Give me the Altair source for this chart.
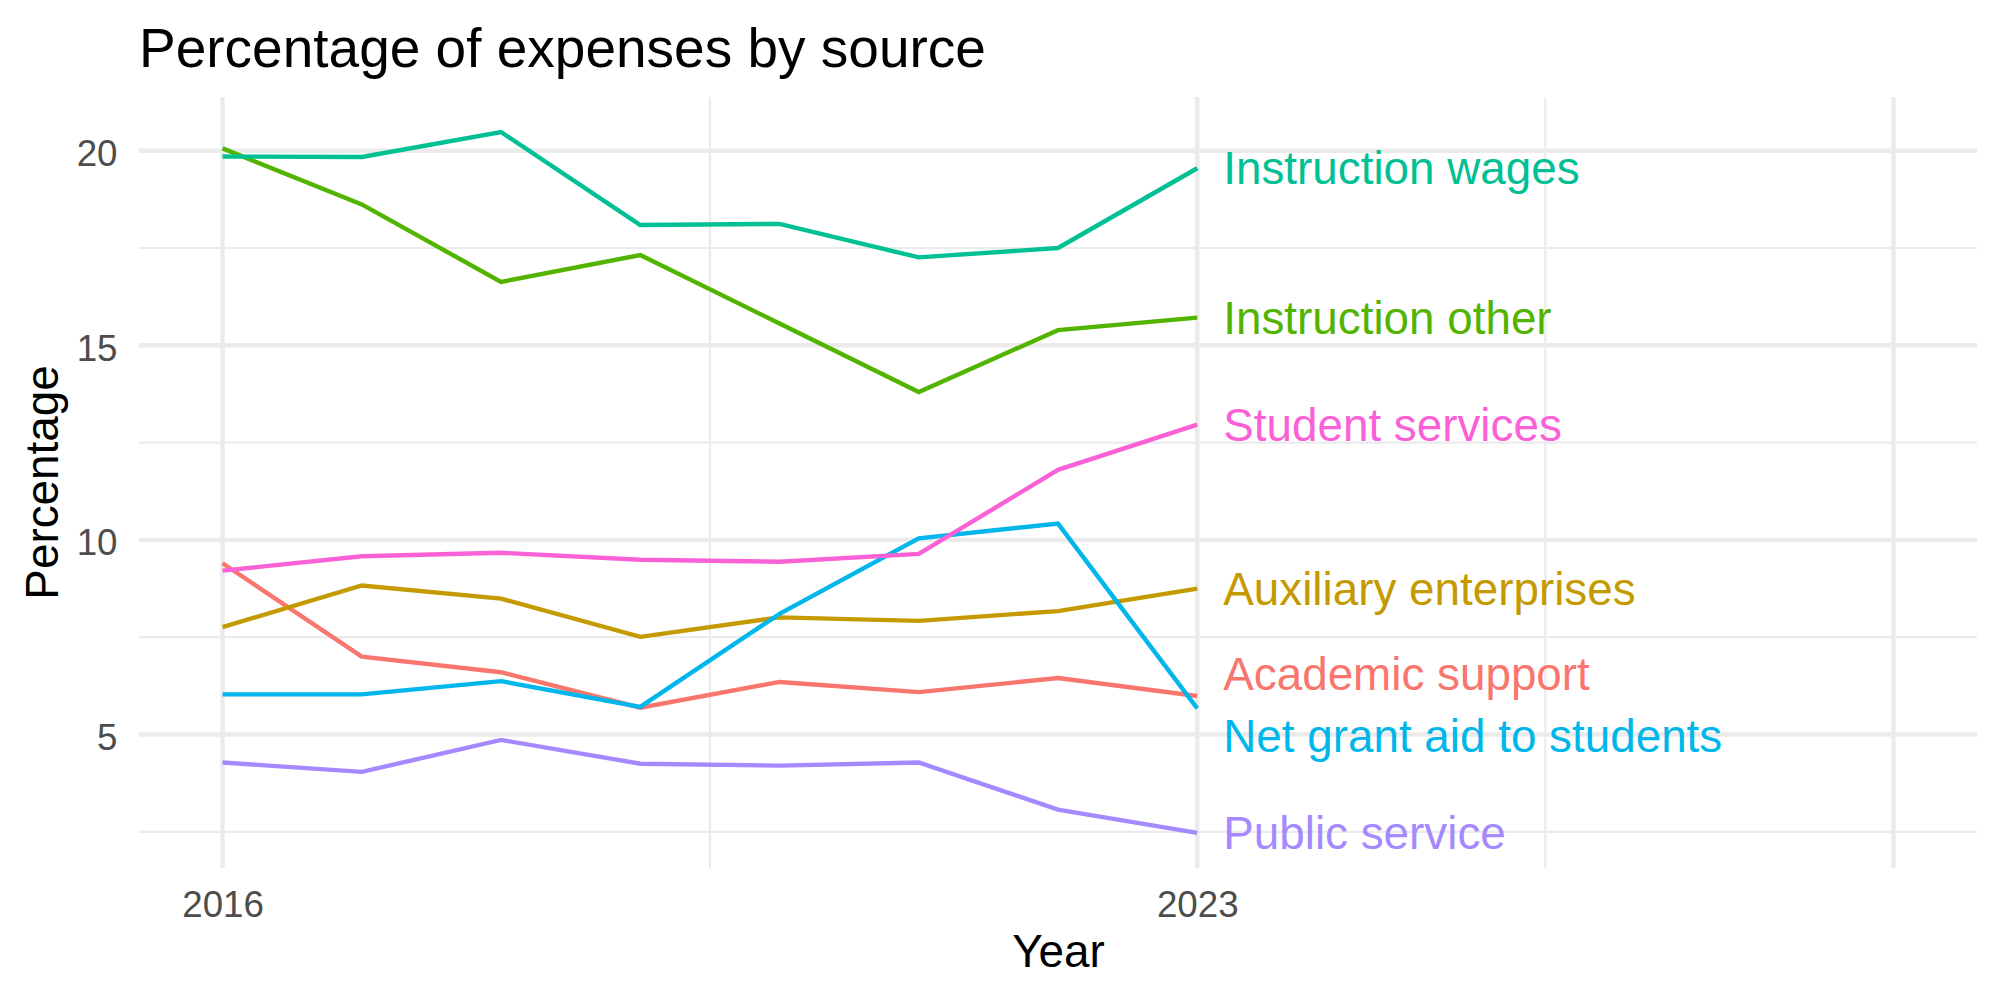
import altair as alt
import pandas as pd

# ---- data ----
years = [2016, 2017, 2018, 2019, 2020, 2021, 2022, 2023]
sources = [
    "Academic support",
    "Auxiliary enterprises",
    "Instruction other",
    "Instruction wages",
    "Net grant aid to students",
    "Public service",
    "Student services",
]
academic_support = [9.40, 7.00, 6.60, 5.69, 6.35, 6.09, 6.45, 5.99]
auxiliary_enterprises = [7.76, 8.83, 8.49, 7.51, 8.01, 7.92, 8.17, 8.75]
instruction_other = [20.06, 18.62, 16.63, 17.32, 15.56, 13.80, 15.39, 15.71]
instruction_wages = [19.85, 19.84, 20.48, 18.09, 18.12, 17.26, 17.50, 19.55]
net_grant_aid = [6.03, 6.03, 6.37, 5.71, 8.10, 10.04, 10.42, 5.67]
public_service = [4.28, 4.04, 4.86, 4.25, 4.20, 4.28, 3.07, 2.47]
student_services = [9.21, 9.58, 9.67, 9.49, 9.44, 9.64, 11.80, 12.96]

# label positions (repelled vertically in the original)
label_year = [2023] * 7
label_value = [6.55, 8.75, 15.71, 19.55, 4.95, 2.47, 12.96]

colors = ["#F8766D", "#C49A00", "#53B400", "#00C094", "#00B6EB", "#A58AFF", "#FB61D7"]

x_limits = [2016, 2028]
x_labels = [2016, 2023]
x_major_grid = [2016, 2023, 2028]
x_minor_grid = [2019.5, 2025.5]
y_major_grid = [5, 10, 15, 20]
y_minor_grid = [2.5, 7.5, 12.5, 17.5]

series = [academic_support, auxiliary_enterprises, instruction_other,
          instruction_wages, net_grant_aid, public_service, student_services]
rows = []
for s, vals in zip(sources, series):
    for yr, v in zip(years, vals):
        rows.append({"Year": yr, "Percentage": v, "Source": s})
df = pd.DataFrame(rows)
labels_df = pd.DataFrame({"Year": label_year, "Percentage": label_value, "Source": sources})

allv = [v for s in series for v in s]
ymin, ymax = min(allv), max(allv)
yr_ = ymax - ymin
y_domain = [ymin - 0.05 * yr_, ymax + 0.05 * yr_]
xr_ = x_limits[1] - x_limits[0]
x_domain = [x_limits[0] - 0.05 * xr_, x_limits[1] + 0.05 * xr_]

FONT = "Liberation Sans"
GRID = "#EBEBEB"
xs = alt.Scale(domain=x_domain, nice=False, zero=False)
ys = alt.Scale(domain=y_domain, nice=False, zero=False)
color_scale = alt.Scale(domain=sources, range=colors)

x_axis = alt.Axis(values=x_labels, format="d", title="Year", grid=False, ticks=False,
                  tickSize=0, domain=False, labelFontSize=36.7, labelColor="#4D4D4D",
                  labelFont=FONT, labelPadding=19, labelBaseline="top",
                  titleFont=FONT, titleFontSize=45.8, titleFontWeight="normal",
                  titleColor="black", titleBaseline="alphabetic", titleY=98)
y_axis = alt.Axis(values=y_major_grid, title="Percentage", grid=False, ticks=False,
                  tickSize=0, domain=False, labelFontSize=36.7, labelColor="#4D4D4D",
                  labelFont=FONT, labelPadding=22, labelBaseline="alphabetic",
                  labelOffset=15,
                  titleFont=FONT, titleFontSize=45.8, titleFontWeight="normal",
                  titleColor="black", titleBaseline="alphabetic", titleX=-82,
                  titleY=385, titleAngle=270)

ymin_grid = alt.Chart(pd.DataFrame({"Percentage": y_minor_grid})).mark_rule(
    color=GRID, strokeWidth=2.2).encode(
    y=alt.Y("Percentage:Q", scale=ys, axis=y_axis))
ymaj_grid = alt.Chart(pd.DataFrame({"Percentage": y_major_grid})).mark_rule(
    color=GRID, strokeWidth=4.4).encode(
    y=alt.Y("Percentage:Q", scale=ys, axis=y_axis))
xmin_grid = alt.Chart(pd.DataFrame({"Year": x_minor_grid})).mark_rule(
    color=GRID, strokeWidth=2.2).encode(
    x=alt.X("Year:Q", scale=xs, axis=x_axis))
xmaj_grid = alt.Chart(pd.DataFrame({"Year": x_major_grid})).mark_rule(
    color=GRID, strokeWidth=4.4).encode(
    x=alt.X("Year:Q", scale=xs, axis=x_axis))

lines = alt.Chart(df).mark_line(strokeWidth=4.4).encode(
    x=alt.X("Year:Q", scale=xs, axis=x_axis),
    y=alt.Y("Percentage:Q", scale=ys, axis=y_axis),
    color=alt.Color("Source:N", scale=color_scale, legend=None),
    detail="Source:N",
)

texts = alt.Chart(labels_df).mark_text(align="left", baseline="alphabetic", dx=26, dy=16,
                                       fontSize=45.8, font=FONT).encode(
    x=alt.X("Year:Q", scale=xs, axis=x_axis),
    y=alt.Y("Percentage:Q", scale=ys, axis=y_axis),
    text="Source:N",
    color=alt.Color("Source:N", scale=color_scale, legend=None),
)

chart = alt.layer(ymin_grid, ymaj_grid, xmin_grid, xmaj_grid, lines, texts).properties(
    width=1838, height=771,
    autosize=alt.AutoSizeParams(type="none"),
    padding={"left": 139, "top": 97, "right": 23, "bottom": 132},
    title=alt.TitleParams("Percentage of expenses by source", anchor="start", font=FONT,
                          fontSize=55, fontWeight="normal", color="black",
                          baseline="alphabetic", offset=36, dy=63, frame="group"),
    background="white",
).configure_view(stroke=None)

chart.save("out.html", embed_options={"renderer": "svg", "actions": False})
